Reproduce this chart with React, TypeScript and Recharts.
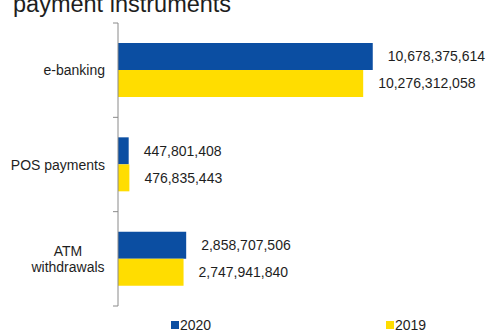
import React from "react";
import { BarChart, Bar, XAxis, YAxis, LabelList, Legend } from "recharts";

const categories = ["e-banking", "POS payments", "ATM withdrawals"];
const values2020 = [10678375614, 447801408, 2858707506];
const values2019 = [10276312058, 476835443, 2747941840];
const seriesNames = ["2020", "2019"];
const titleText = "payment instruments";

const data = categories.map((name, i) => ({
  name,
  v2020: values2020[i],
  v2019: values2019[i],
}));

const W = 495;
const H = 336;
const TOP = 23;
const BOTTOM_LEGEND = 30;
const AXIS_X = 118;
const PLOT_H = H - TOP - BOTTOM_LEGEND;
const BAND = PLOT_H / categories.length;
const FONT = "'Liberation Sans', Arial, Helvetica, sans-serif";
const TEXT = "#1e1e1e";
const BLUE = "#0B4EA2";
const YELLOW = "#FFDD00";
const AXIS_COLOR = "#8a8a8a";

const fmt = (v: number) => v.toLocaleString("en-US");

const CategoryTick = (props: any) => {
  const { y, payload, index } = props;
  const label: string = payload.value;
  const words = label.split(" ");
  const multi = label === "ATM withdrawals";
  const cx = AXIS_X - 50;
  return (
    <g>
      <line x1={AXIS_X - 5} x2={AXIS_X} y1={y - BAND / 2} y2={y - BAND / 2} stroke={AXIS_COLOR} strokeWidth={1} />
      {index === categories.length - 1 && (
        <line x1={AXIS_X - 5} x2={AXIS_X} y1={y + BAND / 2} y2={y + BAND / 2} stroke={AXIS_COLOR} strokeWidth={1} />
      )}
      {multi ? (
        <text x={cx} y={y} textAnchor="middle" fontSize={14} fontFamily={FONT} fill={TEXT}>
          <tspan x={cx} dy={-3}>{words[0]}</tspan>
          <tspan x={cx} dy={16}>{words[1]}</tspan>
        </text>
      ) : (
        <text x={AXIS_X - 13} y={y} dy={5} textAnchor="end" fontSize={14} fontFamily={FONT} fill={TEXT}>
          {label}
        </text>
      )}
    </g>
  );
};

const legendX = [171, 386];

const LegendContent = (props: any) => {
  const payload = props.payload || [];
  return (
    <div style={{ position: "relative", width: W, height: BOTTOM_LEGEND }}>
      {payload.map((p: any) => {
        const idx = Math.max(0, seriesNames.indexOf(String(p.value)));
        return (
          <div
            key={p.value}
            style={{
              position: "absolute",
              left: legendX[idx],
              top: 11,
              display: "flex",
              alignItems: "center",
              fontFamily: FONT,
              fontSize: 14,
              color: TEXT,
              lineHeight: "16px",
            }}
          >
            <span style={{ display: "inline-block", width: 8, height: 8, background: p.color, marginRight: 1 }} />
            <span>{p.value}</span>
          </div>
        );
      })}
    </div>
  );
};

export default function App() {
  return (
    <div style={{ position: "absolute", left: 0, top: 0, width: W, height: H, background: "#fff" }}>
      <BarChart
        width={W}
        height={H}
        data={data}
        layout="vertical"
        margin={{ top: TOP, right: 43, bottom: 0, left: 0 }}
        barGap={0}
        barSize={27}
      >
        <XAxis type="number" domain={[0, 14000000000]} hide />
        <YAxis
          type="category"
          dataKey="name"
          width={AXIS_X}
          axisLine={{ stroke: AXIS_COLOR, strokeWidth: 1 }}
          tickLine={false}
          tick={<CategoryTick />}
          interval={0}
        />
        <Legend
          verticalAlign="bottom"
          height={BOTTOM_LEGEND}
          content={<LegendContent />}
          wrapperStyle={{ left: 0, width: W }}
        />
        <Bar dataKey="v2020" name={seriesNames[0]} fill={BLUE} isAnimationActive={false}>
          <LabelList
            dataKey="v2020"
            position="right"
            offset={15}
            formatter={(v: any) => fmt(Number(v))}
            style={{ fontSize: 14, fontFamily: FONT, fill: TEXT }}
          />
        </Bar>
        <Bar dataKey="v2019" name={seriesNames[1]} fill={YELLOW} isAnimationActive={false}>
          <LabelList
            dataKey="v2019"
            position="right"
            offset={15}
            formatter={(v: any) => fmt(Number(v))}
            style={{ fontSize: 14, fontFamily: FONT, fill: TEXT }}
          />
        </Bar>
      </BarChart>
      <svg width={W} height={H} style={{ position: "absolute", left: 0, top: 0, pointerEvents: "none" }}>
        <text x={13} y={12} fontSize={23.5} fontFamily={FONT} fill={TEXT}>
          {titleText}
        </text>
      </svg>
    </div>
  );
}
